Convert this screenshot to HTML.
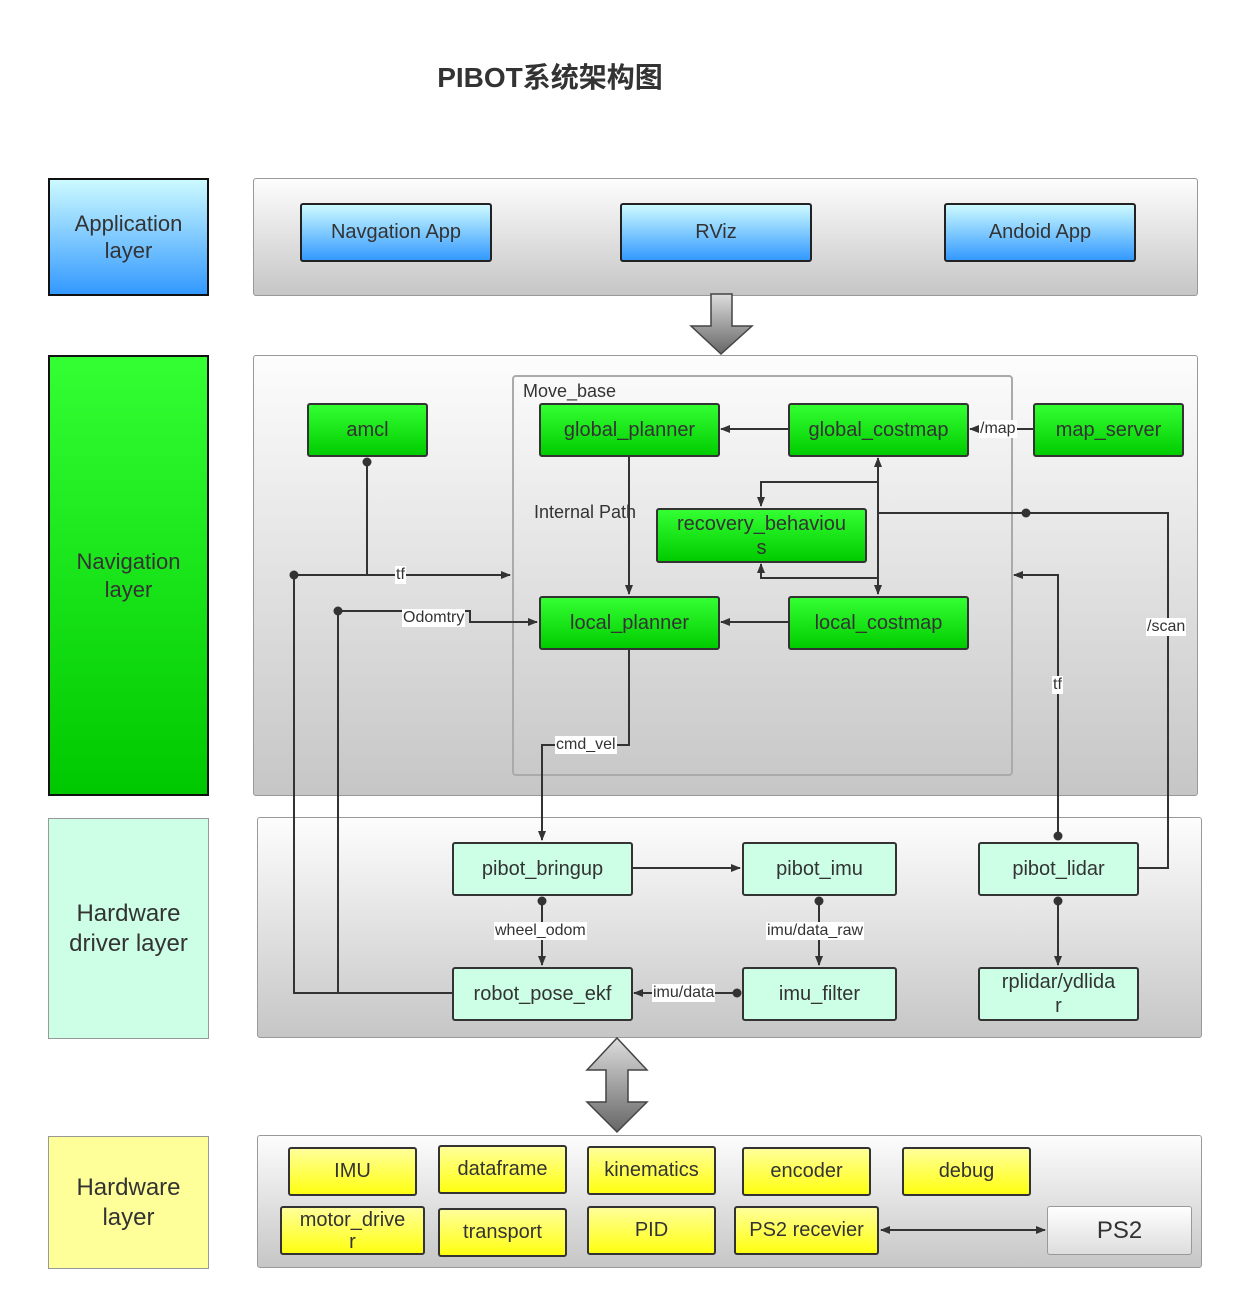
<!DOCTYPE html>
<html><head><meta charset="utf-8"><style>
body{margin:0;width:1233px;height:1299px;background:#fff;position:relative;overflow:hidden;font-family:"Liberation Sans","Noto Sans CJK SC",sans-serif;color:#333}
.a{position:absolute;box-sizing:border-box;display:flex;align-items:center;justify-content:center;text-align:center;line-height:1.25}
.panel{border:1.5px solid #999;border-radius:3px;background:linear-gradient(#fdfdfd,#c6c6c6)}
.blue{border:2px solid #222;border-radius:3px;background:linear-gradient(#ccfaff,#3399ff);font-size:20px}
.green{border:2px solid #333;border-radius:3px;background:linear-gradient(#33ff33,#00cc00);font-size:20px}
.mint{border:2px solid #333;border-radius:3px;background:#ccffe6;font-size:20px}
.yel{border:2px solid #333;border-radius:3px;background:linear-gradient(#ffff99,#ffff11);font-size:20px}
.lay{font-size:22px}
.lbl{position:absolute;background:#fff;font-size:16px;line-height:18px;padding:0 1px}
</style></head><body>
<div class="a" style="left:400px;top:55px;width:300px;height:44px;font-size:28px;font-weight:bold">PIBOT系统架构图</div>

<div class="a lay" style="left:48px;top:178px;width:161px;height:118px;border:2px solid #111;background:linear-gradient(#ccfaff,#3399ff)">Application<br>layer</div>
<div class="a lay" style="left:48px;top:355px;width:161px;height:441px;border:2px solid #111;background:linear-gradient(#33ff33,#00c800)">Navigation<br>layer</div>
<div class="a lay" style="left:48px;top:818px;width:161px;height:221px;border:1.5px solid #999;background:#ccffe6;font-size:24px">Hardware<br>driver layer</div>
<div class="a lay" style="left:48px;top:1136px;width:161px;height:133px;border:1.5px solid #999;background:#ffff99;font-size:24px">Hardware<br>layer</div>

<div class="a panel" style="left:253px;top:178px;width:945px;height:118px"></div>
<div class="a panel" style="left:253px;top:355px;width:945px;height:441px"></div>
<div class="a panel" style="left:257px;top:817px;width:945px;height:221px"></div>
<div class="a panel" style="left:257px;top:1135px;width:945px;height:133px"></div>
<div class="a" style="left:512px;top:375px;width:501px;height:401px;border:2px solid #aaa;border-radius:4px"></div>
<div style="position:absolute;left:523px;top:381px;font-size:18px">Move_base</div>
<div style="position:absolute;left:534px;top:502px;font-size:18px">Internal Path</div>

<div class="a blue" style="left:300px;top:203px;width:192px;height:59px">Navgation App</div>
<div class="a blue" style="left:620px;top:203px;width:192px;height:59px">RViz</div>
<div class="a blue" style="left:944px;top:203px;width:192px;height:59px">Andoid App</div>

<div class="a green" style="left:307px;top:403px;width:121px;height:54px">amcl</div>
<div class="a green" style="left:539px;top:403px;width:181px;height:54px">global_planner</div>
<div class="a green" style="left:788px;top:403px;width:181px;height:54px">global_costmap</div>
<div class="a green" style="left:1033px;top:403px;width:151px;height:54px">map_server</div>
<div class="a green" style="left:656px;top:508px;width:211px;height:55px;align-items:flex-start;line-height:24px;padding-top:2px">recovery_behaviou<br>s</div>
<div class="a green" style="left:539px;top:596px;width:181px;height:54px">local_planner</div>
<div class="a green" style="left:788px;top:596px;width:181px;height:54px">local_costmap</div>

<div class="a mint" style="left:452px;top:842px;width:181px;height:54px">pibot_bringup</div>
<div class="a mint" style="left:742px;top:842px;width:155px;height:54px">pibot_imu</div>
<div class="a mint" style="left:978px;top:842px;width:161px;height:54px">pibot_lidar</div>
<div class="a mint" style="left:452px;top:967px;width:181px;height:54px">robot_pose_ekf</div>
<div class="a mint" style="left:742px;top:967px;width:155px;height:54px">imu_filter</div>
<div class="a mint" style="left:978px;top:967px;width:161px;height:54px;line-height:24px">rplidar/ydlida<br>r</div>

<div class="a yel" style="left:288px;top:1147px;width:129px;height:49px">IMU</div>
<div class="a yel" style="left:438px;top:1145px;width:129px;height:49px">dataframe</div>
<div class="a yel" style="left:587px;top:1146px;width:129px;height:49px">kinematics</div>
<div class="a yel" style="left:742px;top:1147px;width:129px;height:49px">encoder</div>
<div class="a yel" style="left:902px;top:1147px;width:129px;height:49px">debug</div>
<div class="a yel" style="left:280px;top:1206px;width:145px;height:49px;line-height:22px">motor_drive<br>r</div>
<div class="a yel" style="left:438px;top:1208px;width:129px;height:49px">transport</div>
<div class="a yel" style="left:587px;top:1206px;width:129px;height:49px">PID</div>
<div class="a yel" style="left:734px;top:1206px;width:145px;height:49px">PS2 recevier</div>
<div class="a" style="left:1047px;top:1206px;width:145px;height:49px;border:1.5px solid #999;border-radius:3px;background:linear-gradient(#fff,#ddd);font-size:24px">PS2</div>

<svg width="1233" height="1299" style="position:absolute;left:0;top:0" xmlns="http://www.w3.org/2000/svg">
<defs>
<marker id="ar" markerWidth="10" markerHeight="10" refX="9" refY="5" orient="auto" markerUnits="userSpaceOnUse"><path d="M0,1 L10,5 L0,9 z" fill="#333"/></marker>
<marker id="as" markerWidth="10" markerHeight="10" refX="1" refY="5" orient="auto" markerUnits="userSpaceOnUse"><path d="M10,1 L0,5 L10,9 z" fill="#333"/></marker>
<linearGradient id="g1" x1="0" y1="0" x2="0" y2="1"><stop offset="0" stop-color="#ddd"/><stop offset="1" stop-color="#666"/></linearGradient>
</defs>
<g fill="none" stroke="#333" stroke-width="2">
<path d="M788,429 H721" marker-end="url(#ar)"/>
<path d="M1033,429 H970" marker-end="url(#ar)"/>
<path d="M629,457 V594" marker-end="url(#ar)"/>
<path d="M788,622 H721" marker-end="url(#ar)"/>
<path d="M878,482 V458" marker-end="url(#ar)"/>
<path d="M878,482 V594" marker-end="url(#ar)"/>
<path d="M878,482 H761 V506" marker-end="url(#ar)"/>
<path d="M878,578 H761 V564" marker-end="url(#ar)"/>
<path d="M878,513 H1168 V868 H1139"/>
<path d="M1058,836 V575 H1014" marker-end="url(#ar)"/>
<path d="M367,462 V575"/>
<path d="M294,575 H510" marker-end="url(#ar)"/>
<path d="M294,575 V993 H452"/>
<path d="M338,611 H470 V622 H537" marker-end="url(#ar)"/>
<path d="M338,611 V993"/>
<path d="M629,650 V745 H542 V840" marker-end="url(#ar)"/>
<path d="M633,868 H740" marker-end="url(#ar)"/>
<path d="M542,901 V965" marker-end="url(#ar)"/>
<path d="M819,901 V965" marker-end="url(#ar)"/>
<path d="M737,993 H634" marker-end="url(#ar)"/>
<path d="M1058,901 V965" marker-end="url(#ar)"/>
<path d="M881,1230 H1045" marker-start="url(#as)" marker-end="url(#ar)"/>
</g>
<g fill="#333">
<circle cx="367" cy="462" r="4.5"/><circle cx="294" cy="575" r="4.5"/><circle cx="338" cy="611" r="4.5"/>
<circle cx="1026" cy="513" r="4.5"/><circle cx="1058" cy="836" r="4.5"/>
<circle cx="542" cy="901" r="4.5"/><circle cx="819" cy="901" r="4.5"/><circle cx="737" cy="993" r="4.5"/><circle cx="1058" cy="901" r="4.5"/>
</g>
<path d="M711,294 H732 V326 H752 L721,354 L691,326 H711 Z" fill="url(#g1)" stroke="#444" stroke-width="1.5"/>
<path d="M617,1038 L647,1070 H628 V1102 H647 L617,1132 L587,1102 H606 V1070 H587 Z" fill="url(#g1)" stroke="#444" stroke-width="1.5"/>
</svg>
<div class="lbl" style="left:395px;top:566px">tf</div>
<div class="lbl" style="left:402px;top:609px">Odomtry</div>
<div class="lbl" style="left:979px;top:420px">/map</div>
<div class="lbl" style="left:1146px;top:618px">/scan</div>
<div class="lbl" style="left:1052px;top:676px">tf</div>
<div class="lbl" style="left:555px;top:736px">cmd_vel</div>
<div class="lbl" style="left:494px;top:922px">wheel_odom</div>
<div class="lbl" style="left:766px;top:922px">imu/data_raw</div>
<div class="lbl" style="left:652px;top:984px">imu/data</div>
</body></html>
